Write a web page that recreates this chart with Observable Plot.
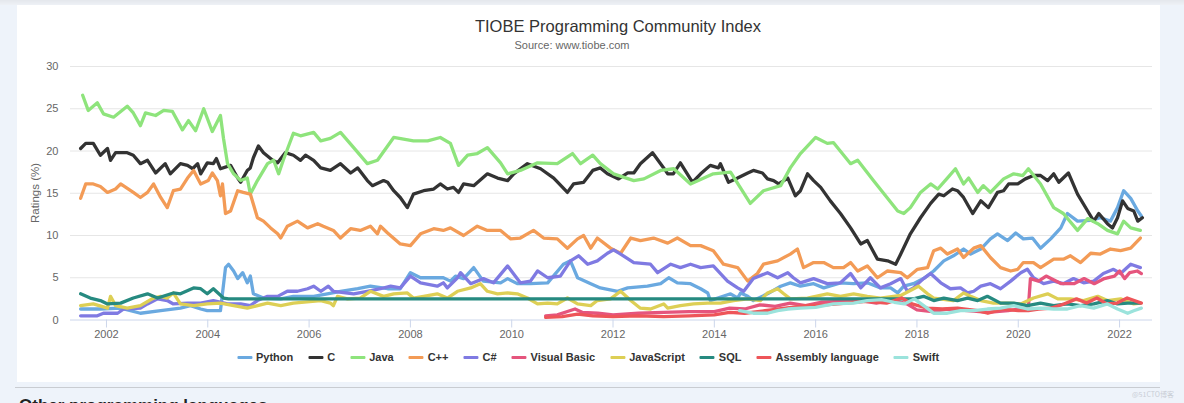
<!DOCTYPE html>
<html>
<head>
<meta charset="utf-8">
<script src="https://cdn.jsdelivr.net/npm/d3@7"></script>
<script src="https://cdn.jsdelivr.net/npm/@observablehq/plot@0.6"></script>
<style>
  html, body { margin: 0; padding: 0; }
  body { width: 1184px; height: 403px; overflow: hidden; background: #eef3fa; position: relative;
         font-family: "Liberation Sans", Arial, sans-serif; }
  #topband { position: absolute; left: 0; top: 0; width: 1184px; height: 5px; background: linear-gradient(#e4e7ec, #eef1f6); }
  #card { position: absolute; left: 17px; top: 5px; width: 1143px; height: 377px; background: #fff; }
  .abs { position: absolute; white-space: nowrap; }
  #title { left: 618px; top: 26px; transform: translate(-50%, -50%); font-size: 16.5px; color: #333; }
  #subtitle { left: 572px; top: 45px; transform: translate(-50%, -50%); font-size: 11px; color: #666; }
  #ylabel { left: 35px; top: 193px; transform: translate(-50%, -50%) rotate(-90deg); font-size: 11.5px; color: #666; }
  #chart { position: absolute; left: 0; top: 0; }
  #legend { position: absolute; left: 588px; top: 357px; transform: translate(-50%, -50%); display: flex; align-items: center;
            font-size: 11px; font-weight: bold; color: #333; white-space: nowrap; width: max-content; }
  .item { display: flex; align-items: center; margin: 0 7.5px; flex: none; white-space: nowrap; }
  .sw { width: 15px; height: 3px; border-radius: 1px; margin-right: 4px; flex: none; }
  #rule { position: absolute; left: 15px; top: 387px; width: 1145px; height: 1px; background: #c9ccd1; }
  #next { left: 19px; top: 396px; font-size: 17px; font-weight: bold; color: #222; }
  #wm { left: 1132px; top: 389px; font-size: 7px; color: #c9ced6; font-family: "Noto Sans CJK SC", sans-serif; }
</style>
</head>
<body>
<div id="topband"></div>
<div id="card"></div>
<div id="chart"></div>
<div id="title" class="abs">TIOBE Programming Community Index</div>
<div id="subtitle" class="abs">Source: www.tiobe.com</div>
<div id="ylabel" class="abs">Ratings (%)</div>
<div id="legend"></div>
<div id="rule"></div>
<div id="next" class="abs">Other programming languages</div>
<div id="wm" class="abs">@51CTO博客</div>
<script>
// ---- data: [year, rating %] ----
const python = [[2001.49,1.3],[2001.88,1.3],[2002.28,1.4],[2002.67,0.8],[2003.07,1.1],[2003.46,1.4],[2003.66,1.7],[2003.86,1.3],[2003.99,1.1],[2004.25,1.1],[2004.35,6.2],[2004.41,6.6],[2004.51,5.8],[2004.59,4.9],[2004.69,5.6],[2004.78,4.4],[2004.84,5.2],[2004.9,3.1],[2005.1,2.6],[2005.44,2.5],[2005.69,2.8],[2006.09,2.8],[2006.36,3.1],[2006.62,3.4],[2006.96,3.7],[2007.21,4.0],[2007.55,3.7],[2007.8,3.7],[2008.0,5.6],[2008.2,5.0],[2008.65,5.0],[2008.79,4.6],[2008.89,5.2],[2009.05,4.9],[2009.25,6.2],[2009.44,4.6],[2009.78,4.4],[2009.92,4.9],[2010.11,4.3],[2010.37,4.3],[2010.71,4.4],[2011.02,6.6],[2011.16,7.0],[2011.3,5.0],[2011.56,4.3],[2011.75,3.8],[2012.09,3.4],[2012.29,3.8],[2012.68,4.0],[2012.94,4.3],[2013.1,5.0],[2013.27,4.4],[2013.53,4.3],[2013.73,3.7],[2013.87,3.2],[2013.92,2.3],[2014.32,3.1],[2014.46,2.6],[2014.52,3.2],[2014.66,2.8],[2014.77,2.3],[2015.05,3.1],[2015.31,4.0],[2015.5,4.4],[2015.7,4.0],[2015.96,4.3],[2016.16,3.8],[2016.49,4.4],[2016.75,4.3],[2017.02,4.4],[2017.28,3.8],[2017.48,3.8],[2017.62,3.2],[2017.74,4.0],[2017.93,4.3],[2018.13,4.9],[2018.33,5.8],[2018.53,7.0],[2018.72,7.6],[2018.92,8.4],[2019.06,7.8],[2019.26,8.4],[2019.45,9.6],[2019.59,10.2],[2019.79,9.4],[2019.95,10.3],[2020.1,9.6],[2020.28,9.7],[2020.44,8.5],[2020.64,9.6],[2020.84,10.9],[2020.97,12.6],[2021.17,11.7],[2021.43,11.8],[2021.62,12.1],[2021.82,11.7],[2021.96,13.3],[2022.08,15.3],[2022.22,14.4],[2022.36,12.9],[2022.43,12.3]];
const c = [[2001.49,20.3],[2001.59,20.9],[2001.74,20.9],[2001.88,19.5],[2002.02,20.3],[2002.08,18.9],[2002.18,19.8],[2002.41,19.8],[2002.53,19.5],[2002.67,18.5],[2002.81,18.9],[2002.97,17.4],[2003.16,18.5],[2003.26,17.3],[2003.46,18.5],[2003.6,18.3],[2003.7,17.9],[2003.8,18.5],[2003.86,17.3],[2003.99,18.6],[2004.11,18.5],[2004.17,19.1],[2004.25,17.9],[2004.45,18.3],[2004.59,16.8],[2004.65,16.3],[2004.78,17.7],[2004.84,18.0],[2004.9,19.2],[2005.0,20.6],[2005.1,19.8],[2005.28,18.9],[2005.38,18.6],[2005.53,19.8],[2005.69,19.5],[2005.83,18.9],[2005.93,19.5],[2006.09,18.9],[2006.23,18.0],[2006.42,17.7],[2006.62,18.5],[2006.82,17.4],[2006.96,18.0],[2007.15,16.5],[2007.25,15.9],[2007.47,16.5],[2007.55,16.3],[2007.67,15.3],[2007.8,14.5],[2007.94,13.3],[2008.06,14.9],[2008.26,15.3],[2008.46,15.5],[2008.59,16.1],[2008.73,15.5],[2008.85,15.7],[2008.95,15.1],[2009.05,16.1],[2009.25,15.9],[2009.52,17.3],[2009.72,16.8],[2009.92,16.5],[2010.04,17.3],[2010.31,18.5],[2010.57,17.9],[2010.83,16.8],[2011.1,15.1],[2011.22,16.1],[2011.42,16.3],[2011.6,17.7],[2011.75,18.0],[2011.89,17.3],[2012.11,16.7],[2012.29,17.4],[2012.41,17.4],[2012.54,18.5],[2012.78,19.8],[2013.0,18.0],[2013.08,17.3],[2013.19,17.3],[2013.33,18.6],[2013.57,16.3],[2013.73,17.3],[2013.92,18.3],[2014.08,18.0],[2014.12,18.5],[2014.28,16.3],[2014.46,16.8],[2014.66,17.4],[2014.77,17.7],[2014.95,17.4],[2015.05,16.7],[2015.17,16.5],[2015.27,16.1],[2015.45,16.8],[2015.6,14.7],[2015.7,15.3],[2015.84,17.3],[2015.96,16.5],[2016.1,15.7],[2016.29,14.1],[2016.49,12.6],[2016.69,10.9],[2016.89,9.0],[2017.02,9.4],[2017.22,7.2],[2017.42,7.0],[2017.58,6.6],[2017.68,7.8],[2017.87,10.2],[2018.07,12.1],[2018.27,13.8],[2018.43,14.9],[2018.53,14.7],[2018.7,15.5],[2018.8,15.3],[2018.92,14.5],[2019.1,12.6],[2019.26,14.1],[2019.41,13.3],[2019.59,15.1],[2019.71,15.3],[2019.81,16.1],[2019.99,16.1],[2020.14,16.7],[2020.3,17.1],[2020.44,17.1],[2020.58,16.5],[2020.7,17.3],[2020.8,16.3],[2020.99,17.4],[2021.17,14.9],[2021.37,12.9],[2021.49,11.7],[2021.59,12.6],[2021.76,11.4],[2021.86,10.9],[2021.96,12.1],[2022.06,14.1],[2022.16,13.2],[2022.28,12.9],[2022.36,11.7],[2022.45,12.1]];
const java = [[2001.53,26.6],[2001.64,24.8],[2001.82,25.7],[2001.94,24.4],[2002.14,24.0],[2002.41,25.3],[2002.53,24.5],[2002.67,23.0],[2002.77,24.5],[2002.97,24.2],[2003.13,24.8],[2003.3,24.7],[2003.5,22.5],[2003.62,23.6],[2003.76,22.4],[2003.92,25.0],[2004.09,22.3],[2004.25,24.2],[2004.31,21.5],[2004.39,18.5],[2004.51,17.3],[2004.65,16.5],[2004.78,16.8],[2004.84,14.9],[2004.98,16.5],[2005.18,18.5],[2005.3,18.9],[2005.4,17.3],[2005.49,18.9],[2005.69,22.1],[2005.83,21.8],[2006.09,22.2],[2006.23,21.2],[2006.42,21.5],[2006.62,22.2],[2006.88,20.4],[2007.15,18.5],[2007.35,18.9],[2007.67,21.6],[2008.06,21.2],[2008.34,21.2],[2008.59,21.6],[2008.79,20.9],[2008.95,18.3],[2009.13,19.5],[2009.32,19.7],[2009.52,20.4],[2009.78,18.6],[2009.92,17.3],[2010.17,17.7],[2010.51,18.6],[2010.9,18.5],[2011.2,19.7],[2011.36,18.5],[2011.6,19.5],[2011.75,18.5],[2012.01,17.3],[2012.41,16.5],[2012.61,16.7],[2012.94,17.7],[2013.2,17.9],[2013.53,16.1],[2013.98,17.3],[2014.32,17.5],[2014.71,13.8],[2014.97,15.3],[2015.31,15.9],[2015.5,18.0],[2015.7,19.7],[2016.0,21.6],[2016.23,20.9],[2016.35,21.0],[2016.69,18.5],[2016.83,18.9],[2017.14,16.5],[2017.62,12.9],[2017.74,12.6],[2017.87,13.3],[2018.07,15.1],[2018.27,16.1],[2018.41,15.5],[2018.6,16.8],[2018.76,17.9],[2018.92,16.1],[2019.02,16.8],[2019.2,15.1],[2019.31,15.9],[2019.45,15.1],[2019.71,16.7],[2019.91,17.3],[2020.09,17.1],[2020.2,17.9],[2020.44,16.1],[2020.7,13.3],[2020.89,12.6],[2021.17,10.6],[2021.37,12.0],[2021.57,11.4],[2021.76,10.6],[2021.96,10.2],[2022.08,11.7],[2022.22,10.9],[2022.41,10.6]];
const cpp = [[2001.49,14.4],[2001.59,16.1],[2001.74,16.1],[2001.88,15.8],[2002.02,15.1],[2002.18,15.5],[2002.28,16.1],[2002.53,15.1],[2002.67,14.5],[2002.81,15.1],[2002.93,16.1],[2003.07,14.5],[2003.2,13.3],[2003.32,15.3],[2003.46,15.5],[2003.6,16.8],[2003.72,17.7],[2003.86,16.1],[2004.01,16.5],[2004.09,17.4],[2004.19,16.5],[2004.25,14.7],[2004.29,16.1],[2004.35,12.6],[2004.45,12.9],[2004.59,15.3],[2004.7,15.1],[2004.84,14.9],[2004.98,12.1],[2005.1,11.7],[2005.24,10.9],[2005.38,10.2],[2005.44,9.7],[2005.57,11.1],[2005.77,11.7],[2005.97,10.9],[2006.17,11.4],[2006.28,11.1],[2006.48,10.6],[2006.62,9.7],[2006.82,10.8],[2007.01,10.6],[2007.21,11.1],[2007.35,10.2],[2007.41,11.1],[2007.55,10.3],[2007.8,9.0],[2008.0,8.8],[2008.2,10.2],[2008.46,10.8],[2008.65,10.6],[2008.79,10.9],[2009.05,10.0],[2009.32,11.1],[2009.52,10.6],[2009.78,10.6],[2009.98,9.6],[2010.17,9.7],[2010.43,10.6],[2010.63,9.7],[2010.9,9.6],[2011.1,8.5],[2011.3,9.6],[2011.42,10.0],[2011.56,8.5],[2011.69,9.7],[2011.95,8.5],[2012.15,7.9],[2012.35,9.7],[2012.54,9.4],[2012.8,9.7],[2013.08,9.1],[2013.27,9.7],[2013.53,8.8],[2013.73,8.8],[2013.98,8.2],[2014.18,6.6],[2014.46,6.2],[2014.66,4.6],[2014.85,5.5],[2014.97,6.6],[2015.25,7.0],[2015.5,7.8],[2015.64,8.4],[2015.76,6.2],[2015.96,6.8],[2016.16,6.8],[2016.35,6.2],[2016.55,6.2],[2016.69,6.8],[2016.83,5.8],[2017.02,6.4],[2017.22,5.0],[2017.42,5.8],[2017.68,5.6],[2017.81,5.0],[2018.01,6.0],[2018.21,6.2],[2018.33,8.2],[2018.47,8.5],[2018.6,7.8],[2018.8,8.4],[2018.92,7.4],[2019.12,8.5],[2019.26,8.8],[2019.45,7.4],[2019.65,6.2],[2019.85,5.8],[2019.99,6.0],[2020.1,6.8],[2020.3,6.8],[2020.44,6.2],[2020.7,7.2],[2020.89,7.2],[2021.03,7.6],[2021.23,6.8],[2021.43,7.9],[2021.62,7.8],[2021.82,8.4],[2022.02,8.2],[2022.22,8.5],[2022.41,9.7]];
const csharp = [[2001.49,0.5],[2001.82,0.5],[2001.94,0.8],[2002.22,0.8],[2002.34,1.3],[2002.67,1.4],[2002.81,1.9],[2003.01,2.5],[2003.2,2.3],[2003.32,1.9],[2003.6,2.0],[2003.86,2.0],[2004.11,2.3],[2004.39,1.9],[2004.65,1.9],[2004.84,1.7],[2004.98,2.3],[2005.18,2.8],[2005.38,2.8],[2005.57,3.4],[2005.77,3.4],[2005.97,3.7],[2006.09,4.0],[2006.23,3.4],[2006.38,4.0],[2006.48,3.4],[2006.88,3.1],[2007.15,3.4],[2007.41,3.7],[2007.61,4.0],[2007.8,3.8],[2008.0,5.2],[2008.2,4.4],[2008.53,4.0],[2008.65,4.4],[2008.73,3.8],[2008.93,5.0],[2008.99,5.6],[2009.19,4.3],[2009.44,4.9],[2009.64,4.4],[2009.92,6.4],[2010.17,4.4],[2010.37,4.6],[2010.51,5.8],[2010.71,5.0],[2010.96,5.2],[2011.16,7.0],[2011.32,7.6],[2011.5,6.6],[2011.69,7.0],[2011.89,7.9],[2012.01,8.3],[2012.15,7.8],[2012.41,6.8],[2012.74,6.6],[2012.88,5.6],[2013.14,6.6],[2013.33,6.2],[2013.53,6.6],[2013.73,6.2],[2013.98,6.4],[2014.26,4.6],[2014.46,3.8],[2014.58,3.4],[2014.77,4.9],[2015.05,5.6],[2015.25,5.0],[2015.45,5.6],[2015.56,5.0],[2015.7,4.4],[2015.96,4.9],[2016.23,4.3],[2016.49,4.4],[2016.69,5.5],[2016.89,3.8],[2017.08,5.0],[2017.28,3.8],[2017.48,4.3],[2017.68,4.9],[2017.81,3.4],[2017.93,3.8],[2018.13,4.9],[2018.27,5.5],[2018.47,4.4],[2018.66,3.7],[2018.86,3.8],[2019.0,3.2],[2019.12,3.4],[2019.26,4.0],[2019.45,4.3],[2019.65,3.7],[2019.85,4.6],[2020.05,5.6],[2020.18,6.0],[2020.3,5.0],[2020.5,4.3],[2020.7,4.6],[2020.89,4.3],[2021.09,4.9],[2021.29,4.4],[2021.49,4.6],[2021.68,5.5],[2021.88,6.0],[2022.02,5.5],[2022.22,6.6],[2022.41,6.2]];
const visualBasic = [[2010.67,0.5],[2010.9,0.6],[2011.1,1.0],[2011.25,1.3],[2011.4,0.9],[2011.7,0.8],[2012.0,0.6],[2012.5,0.8],[2013.0,0.9],[2013.5,1.0],[2014.0,1.0],[2014.3,1.4],[2014.6,1.3],[2014.9,1.8],[2015.2,1.6],[2015.5,2.0],[2015.8,1.7],[2016.1,2.1],[2016.5,2.2],[2016.9,2.3],[2017.2,2.0],[2017.5,2.4],[2017.8,1.9],[2018.0,1.2],[2018.3,1.0],[2018.6,1.3],[2019.0,1.1],[2019.4,0.9],[2019.8,1.1],[2020.2,1.5],[2020.24,4.9],[2020.4,4.6],[2020.55,5.2],[2020.85,4.3],[2021.1,4.3],[2021.3,4.9],[2021.5,4.3],[2021.7,4.9],[2021.9,5.2],[2022.0,5.8],[2022.1,4.9],[2022.2,5.6],[2022.35,5.8],[2022.43,5.5]];
const javascript = [[2001.49,1.7],[2001.74,1.9],[2002.02,1.4],[2002.08,2.8],[2002.18,1.7],[2002.41,1.4],[2002.67,1.7],[2002.93,2.6],[2003.07,2.8],[2003.2,2.6],[2003.32,3.2],[2003.46,1.9],[2003.72,1.7],[2003.99,1.9],[2004.25,2.0],[2004.51,1.7],[2004.78,1.4],[2005.18,2.0],[2005.44,1.7],[2005.69,2.0],[2006.23,2.3],[2006.42,2.0],[2006.48,1.7],[2006.56,2.8],[2006.76,2.5],[2007.01,2.6],[2007.21,3.4],[2007.47,2.8],[2007.67,3.1],[2007.94,3.2],[2008.06,2.6],[2008.26,2.8],[2008.53,3.1],[2008.73,2.6],[2008.93,3.4],[2009.19,3.8],[2009.38,4.3],[2009.52,3.4],[2009.72,3.1],[2009.92,3.2],[2010.11,3.1],[2010.31,2.6],[2010.51,1.9],[2010.71,2.0],[2010.9,1.9],[2011.1,2.6],[2011.3,1.9],[2011.56,1.7],[2011.69,2.3],[2011.95,2.5],[2012.15,3.4],[2012.35,2.3],[2012.54,1.4],[2012.74,1.3],[2013.0,1.9],[2013.08,1.4],[2013.33,1.7],[2013.59,1.9],[2013.87,2.0],[2014.12,2.0],[2014.38,2.3],[2014.66,2.5],[2014.91,2.3],[2015.05,3.2],[2015.25,3.7],[2015.37,3.1],[2015.5,2.5],[2015.84,2.6],[2016.23,3.1],[2016.49,2.8],[2016.75,3.1],[2017.02,2.8],[2017.28,2.6],[2017.68,2.9],[2018.03,4.0],[2018.21,3.1],[2018.33,2.6],[2018.72,2.3],[2018.92,3.2],[2019.06,2.8],[2019.26,2.3],[2019.51,2.0],[2019.79,2.0],[2020.05,1.9],[2020.3,2.6],[2020.58,3.1],[2020.78,2.5],[2021.03,2.5],[2021.29,2.3],[2021.57,2.8],[2021.76,2.3],[2022.02,2.5],[2022.28,1.9],[2022.41,2.0]];
const sql = [[2001.49,3.1],[2001.68,2.6],[2001.88,2.3],[2002.02,1.9],[2002.28,2.0],[2002.53,2.6],[2002.81,3.1],[2003.01,2.6],[2003.32,3.2],[2003.46,3.1],[2003.72,3.8],[2003.86,3.7],[2003.99,3.1],[2004.11,3.7],[2004.31,2.6],[2004.41,2.5],[2017.93,2.5],[2018.13,2.8],[2018.33,2.3],[2018.53,2.6],[2018.8,2.3],[2019.0,2.6],[2019.2,2.3],[2019.39,2.8],[2019.65,2.0],[2019.91,2.0],[2020.18,1.7],[2020.44,2.0],[2020.7,1.7],[2020.97,1.9],[2021.23,1.7],[2021.49,1.9],[2021.76,2.3],[2021.96,1.9],[2022.16,2.0],[2022.41,2.0]];
const assembly = [[2010.67,0.3],[2011.0,0.4],[2011.3,0.7],[2011.6,0.5],[2012.0,0.4],[2012.5,0.5],[2013.0,0.4],[2013.5,0.5],[2014.0,0.6],[2014.3,0.9],[2014.6,0.8],[2015.0,1.1],[2015.4,1.4],[2015.8,1.7],[2016.2,1.8],[2016.6,2.0],[2017.0,2.2],[2017.4,2.0],[2017.7,2.6],[2017.9,1.9],[2018.2,1.4],[2018.5,1.3],[2018.8,1.4],[2019.2,1.1],[2019.4,0.8],[2019.7,1.3],[2020.0,1.1],[2020.2,1.1],[2020.4,1.3],[2020.65,1.4],[2020.9,1.9],[2021.15,2.5],[2021.35,2.0],[2021.55,2.6],[2021.75,1.9],[2021.95,2.0],[2022.15,2.6],[2022.43,2.0]];
const swift = [[2014.5,1.1],[2014.77,0.8],[2015.05,0.8],[2015.25,1.1],[2015.45,1.3],[2015.7,1.4],[2016.0,1.5],[2016.35,1.9],[2016.75,2.0],[2017.02,2.3],[2017.3,2.4],[2017.55,2.1],[2017.75,1.9],[2017.95,2.5],[2018.2,1.4],[2018.33,0.8],[2018.6,0.8],[2018.86,1.1],[2019.12,1.1],[2019.39,1.3],[2019.65,1.4],[2019.91,1.7],[2020.18,1.3],[2020.44,1.4],[2020.7,1.3],[2020.97,1.3],[2021.23,1.7],[2021.49,1.4],[2021.76,1.9],[2021.96,1.3],[2022.16,0.8],[2022.28,1.1],[2022.43,1.4]];

const seriesNames = ["Python","C","Java","C++","C#","Visual Basic","JavaScript","SQL","Assembly language","Swift"];
const seriesData = [python, c, java, cpp, csharp, visualBasic, javascript, sql, assembly, swift];
const seriesColors = ["#6aa9e0","#333333","#8ee47c","#f39b56","#7f7ae2","#e5557d","#ddcf55","#268a80","#ee5559","#9be3dc"];
const xTicks = [2002,2004,2006,2008,2010,2012,2014,2016,2018,2020,2022];
const yTicks = [0,5,10,15,20,25,30];

const marks = [
  Plot.ruleY(yTicks.filter(d => d > 0), {stroke: "#e6e6e6", strokeWidth: 1}),
  Plot.ruleY([0], {stroke: "#ccd6eb", strokeWidth: 1}),
  Plot.axisX({ticks: xTicks, tickSize: 8, tickPadding: 2, tickFormat: d => String(d), stroke: "#ccd6eb", fill: "#666", label: null, fontSize: 11}),
  Plot.axisY({ticks: yTicks, tickSize: 0, tickPadding: 12, fill: "#666", label: null, fontSize: 11})
];
seriesData.forEach((data, i) => {
  marks.push(Plot.line(data, {x: d => d[0], y: d => d[1], stroke: seriesColors[i], strokeWidth: 3.3, strokeLinejoin: "round", strokeLinecap: "round", curve: "linear"}));
});

const chart = Plot.plot({
  width: 1184, height: 345,
  marginLeft: 70, marginRight: 32, marginTop: 66, marginBottom: 25.5,
  x: {domain: [2001.29, 2022.65]},
  y: {domain: [0, 30]},
  style: {fontFamily: "'Liberation Sans', Arial, sans-serif", fontSize: "11px", background: "transparent", color: "#666"},
  marks
});
document.getElementById("chart").appendChild(chart);

const legend = document.getElementById("legend");
seriesNames.forEach((name, i) => {
  const item = document.createElement("div");
  item.className = "item";
  const sw = document.createElement("div");
  sw.className = "sw";
  sw.style.background = seriesColors[i];
  const t = document.createElement("span");
  t.textContent = name;
  item.appendChild(sw); item.appendChild(t);
  legend.appendChild(item);
});
</script>
</body>
</html>
